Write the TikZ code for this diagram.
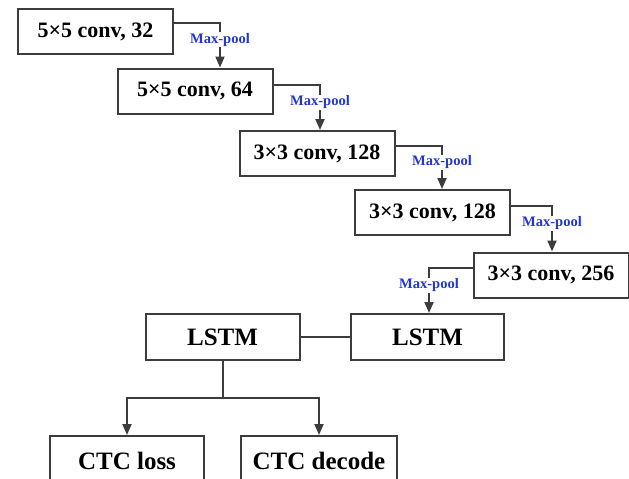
\documentclass[tikz,border=0pt]{standalone}
\usepackage{fontspec}
\setmainfont{Liberation Serif}
\usetikzlibrary{arrows.meta, positioning, calc}
\usepackage{xcolor}

\definecolor{poolblue}{RGB}{35,55,200}
\definecolor{linegray}{RGB}{60,60,60}

\tikzset{
layer/.style={
draw=linegray,
line width=2pt,
fill=white,
minimum width=155pt,
minimum height=45pt,
inner sep=0pt,
font=\fontsize{22}{24}\selectfont\bfseries
},
pool/.style={
draw=linegray,
line width=2pt,
-{Triangle[length=11pt,width=9pt]}
},
plainline/.style={
draw=linegray,
line width=2pt
},
poollabel/.style={
fill=white,
inner sep=1pt,
text=poolblue,
font=\fontsize{14.5}{16}\selectfont\bfseries
}
}

\begin{document}
\begin{tikzpicture}[x=1pt,y=-1pt]
\useasboundingbox (0,0) rectangle (629,479);
\clip (0,0) rectangle (629,479);

% -------- Convolution layers --------
\node[layer] (convA) at (95.5,31.5) {5×5 conv, 32};
\node[layer] (convB) at (195,91) {5×5 conv, 64};
\node[layer] (convC) at (317,153.5) {3×3 conv, 128};
\node[layer] (convD) at (432.5,212.5) {3×3 conv, 128};
\node[layer] (convE) at (551,275) {3×3 conv, 256};

% -------- Recurrent layers --------
\node[layer, minimum width=154pt, minimum height=46pt,
font=\fontsize{25}{27}\selectfont\bfseries] (lstmA) at (222.5,337) {LSTM};
\node[layer, minimum width=153pt, minimum height=46pt,
font=\fontsize{25}{27}\selectfont\bfseries] (lstmB) at (427.5,337) {LSTM};

% -------- Output layers (cut off by the page edge) --------
\node[layer, minimum width=154pt, minimum height=50pt,
font=\fontsize{25}{27}\selectfont\bfseries] (ctcLoss) at (127,461) {CTC loss};
\node[layer, minimum width=156pt, minimum height=50pt,
font=\fontsize{25}{27}\selectfont\bfseries] (ctcDecode) at (319,461) {CTC decode};

% -------- Max-pool connectors --------
\coordinate (bendA) at (220,23);
\coordinate (bendB) at (320,85);
\coordinate (bendC) at (442,146);
\coordinate (bendD) at (552,206);
\coordinate (bendE) at (429,268);

\draw[pool] (convA.east |- bendA) -| (convB.north -| bendA)
node[poollabel, pos=0.69] {Max-pool};
\draw[pool] (convB.east |- bendB) -| (convC.north -| bendB)
node[poollabel, pos=0.69] {Max-pool};
\draw[pool] (convC.east |- bendC) -| (convD.north -| bendC)
node[poollabel, pos=0.69] {Max-pool};
\draw[pool] (convD.east |- bendD) -| (convE.north -| bendD)
node[poollabel, pos=0.69] {Max-pool};
\draw[pool] (convE.west |- bendE) -| (lstmB.north -| bendE)
node[poollabel, pos=0.69] {Max-pool};

% -------- LSTM and CTC connectors --------
\coordinate (split) at (lstmA.south |- 0,398);
\draw[plainline] (lstmB.west) -- (lstmA.east);
\draw[plainline] (lstmA.south) -- (split);
\draw[pool] (split) -| (ctcLoss.north);
\draw[pool] (split) -| (ctcDecode.north);

\end{tikzpicture}
\end{document}
